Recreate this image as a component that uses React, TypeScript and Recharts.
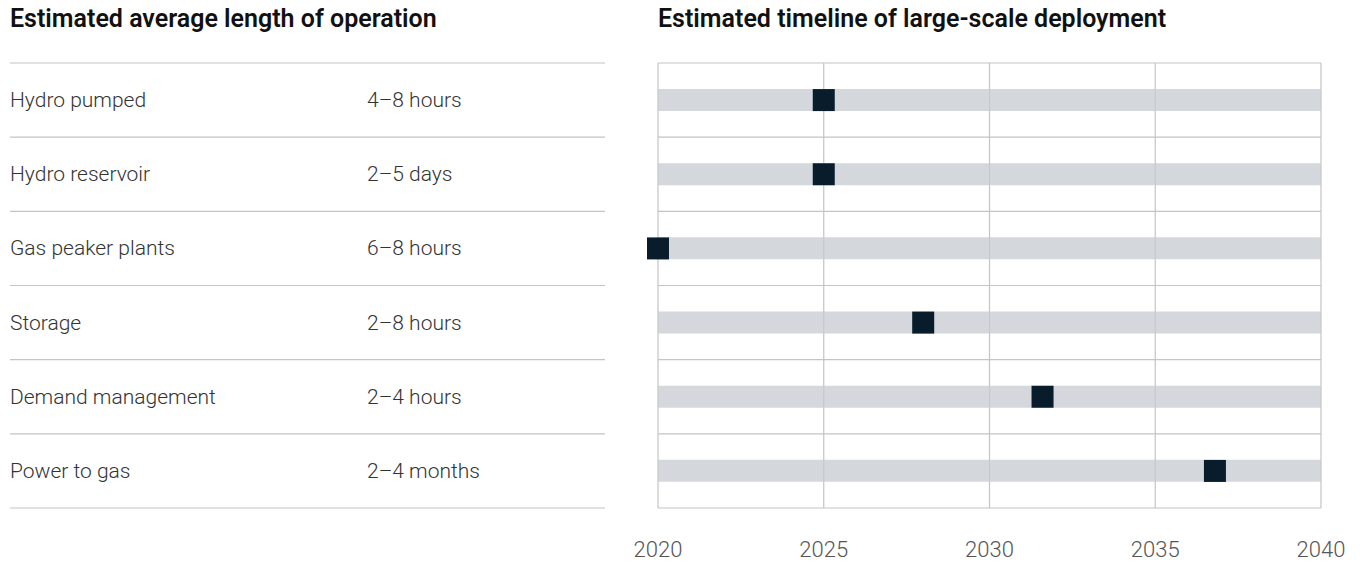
import { Bar, CartesianGrid, ComposedChart, Line, ReferenceLine, XAxis, YAxis } from "recharts";

const technologies = [
  "Hydro pumped",
  "Hydro reservoir",
  "Gas peaker plants",
  "Storage",
  "Demand management",
  "Power to gas",
];
const operationLengths = ["4–8 hours", "2–5 days", "6–8 hours", "2–8 hours", "2–4 hours", "2–4 months"];
const deploymentYears = [2025, 2025, 2020, 2028, 2031.6, 2036.8];
const timelineStart = 2020;
const timelineEnd = 2040;
const yearTicks = [2020, 2025, 2030, 2035, 2040];
const rowBoundaries = [0, 1, 2, 3, 4, 5, 6];

const rows = technologies.map((name, i) => ({
  name,
  length: operationLengths[i],
  span: [timelineStart, timelineEnd],
  year: deploymentYears[i],
  slot: i + 0.5, // row middle on the 0..6 separator scale
}));

const FONT = "Roboto, 'Liberation Sans', Arial, sans-serif";
const RULE = "#c4c4c4";

function RowLabel({ y, payload }: any) {
  const row = rows.find((r) => r.name === payload.value);
  return (
    <g fontFamily={FONT} fontSize={21} fontWeight={300} fill="#333">
      <text x={2} y={y} dominantBaseline="central">
        {payload.value}
      </text>
      <text x={359} y={y} dominantBaseline="central">
        {row?.length}
      </text>
    </g>
  );
}

// row separator: one segment under the table, one across the plot
function RowRule({ x1, x2, y1 }: any) {
  if (y1 == null) return null;
  return (
    <g stroke={RULE} strokeWidth={1.2}>
      <line x1={2} x2={597} y1={y1} y2={y1} />
      <line x1={x1} x2={x2} y1={y1} y2={y1} />
    </g>
  );
}

function Marker({ cx, cy }: any) {
  if (cx == null || cy == null) return null;
  return <rect x={cx - 11} y={cy - 11} width={22} height={22} fill="#081c2c" />;
}

const titleStyle: React.CSSProperties = {
  position: "absolute",
  top: -2,
  fontFamily: FONT,
  fontWeight: 600,
  fontSize: 25,
  lineHeight: "26px",
  color: "#111",
  whiteSpace: "nowrap",
};

export default function App() {
  return (
    <div style={{ position: "relative", width: 1348, height: 555 }}>
      <div style={{ ...titleStyle, left: 2 }}>Estimated average length of operation</div>
      <div style={{ ...titleStyle, left: 650 }}>Estimated timeline of large-scale deployment</div>
      <ComposedChart
        width={1348}
        height={555}
        data={rows}
        layout="vertical"
        margin={{ top: 55, right: 35, bottom: 0, left: 0 }}
      >
        <CartesianGrid horizontal={false} stroke={RULE} strokeWidth={1.2} />
        <XAxis
          type="number"
          domain={[timelineStart, timelineEnd]}
          ticks={yearTicks}
          axisLine={false}
          tickLine={false}
          tickMargin={27}
          height={55}
          tick={{ fontSize: 22, fontWeight: 300, fill: "#555", fontFamily: FONT }}
        />
        <YAxis
          yAxisId="rows"
          type="category"
          dataKey="name"
          width={650}
          axisLine={false}
          tickLine={false}
          tick={<RowLabel />}
        />
        <YAxis
          yAxisId="grid"
          type="number"
          dataKey="slot"
          domain={[0, 6]}
          ticks={rowBoundaries}
          allowDataOverflow
          reversed
          hide
        />
        <Bar
          yAxisId="rows"
          dataKey="span"
          barSize={22}
          fill="#c6cbd0"
          fillOpacity={0.75}
          isAnimationActive={false}
        />
        {rowBoundaries.map((b) => (
          <ReferenceLine key={b} yAxisId="grid" y={b} shape={<RowRule />} />
        ))}
        <Line
          yAxisId="rows"
          dataKey="year"
          stroke="none"
          dot={<Marker />}
          activeDot={false}
          isAnimationActive={false}
        />
      </ComposedChart>
    </div>
  );
}
